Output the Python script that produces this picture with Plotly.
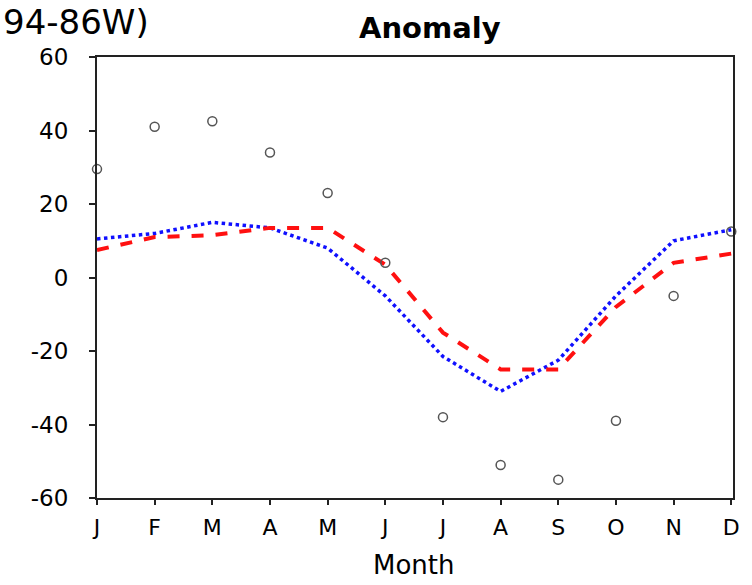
import plotly.graph_objects as go

months = list(range(1, 13))
month_labels = ["J", "F", "M", "A", "M", "J", "J", "A", "S", "O", "N", "D"]
observed = [29.5, 41, 42.5, 34, 23, 4, -38, -51, -55, -39, -5, 12.5]
blue_series = [10.5, 12, 15, 13.5, 8, -5, -21.5, -31, -22.5, -5, 10, 13]
red_series = [7.5, 11, 11.5, 13.5, 13.5, 3.5, -15, -25, -25, -8, 4, 6.5]
y_ticks = [-60, -40, -20, 0, 20, 40, 60]
y_tick_labels = ["-60", "-40", "-20", "0", "20", "40", "60"]

FONT = "DejaVu Sans, Liberation Sans, sans-serif"

fig = go.Figure()
fig.add_trace(go.Scatter(x=months, y=blue_series, mode="lines",
                         line=dict(color="#1010ff", width=3.5, dash="dot"),
                         cliponaxis=False, showlegend=False))
fig.add_trace(go.Scatter(x=months, y=red_series, mode="lines",
                         line=dict(color="#ff1010", width=4, dash="dash"),
                         cliponaxis=False, showlegend=False))
fig.add_trace(go.Scatter(x=months, y=observed, mode="markers",
                         marker=dict(symbol="circle-open", size=9,
                                     color="#555555", line=dict(width=1.5)),
                         cliponaxis=False, showlegend=False))

fig.update_layout(
    width=752, height=585,
    margin=dict(l=97, r=15, t=57, b=87),
    paper_bgcolor="white", plot_bgcolor="white",
    font=dict(family=FONT, color="black"),
    showlegend=False,
)
fig.update_xaxes(range=[1, 12.03], tickvals=months, ticktext=month_labels,
                 showgrid=False, zeroline=False, showline=True, mirror=True,
                 linecolor="#222222", linewidth=2, ticks="outside", ticklen=5,
                 tickwidth=1.5, tickcolor="#222222",
                 tickfont=dict(size=22, family=FONT), ticklabelstandoff=4)
fig.update_yaxes(range=[-60, 60], tickvals=y_ticks, ticktext=y_tick_labels,
                 showgrid=False, zeroline=False, showline=True, mirror=True,
                 linecolor="#222222", linewidth=2, ticks="outside", ticklen=6,
                 tickwidth=1.5, tickcolor="#222222",
                 tickfont=dict(size=23, family=FONT), ticklabelstandoff=16)

fig.add_annotation(text="<b>Anomaly</b>", xref="paper", yref="paper",
                   x=(432 - 97) / 640, y=1 + 29 / 441, xanchor="center", yanchor="middle",
                   showarrow=False, font=dict(size=29, family=FONT))
fig.add_annotation(text="Month", xref="paper", yref="paper",
                   x=(416 - 97) / 640, y=-(565 - 498) / 441, xanchor="center", yanchor="middle",
                   showarrow=False, font=dict(size=26, family=FONT))
fig.add_annotation(text="94-86W)", xref="paper", yref="paper",
                   x=-97 / 640, y=1 + 57 / 441, xanchor="left", yanchor="top",
                   showarrow=False, font=dict(size=34, family=FONT))

fig.write_html("out.html")
